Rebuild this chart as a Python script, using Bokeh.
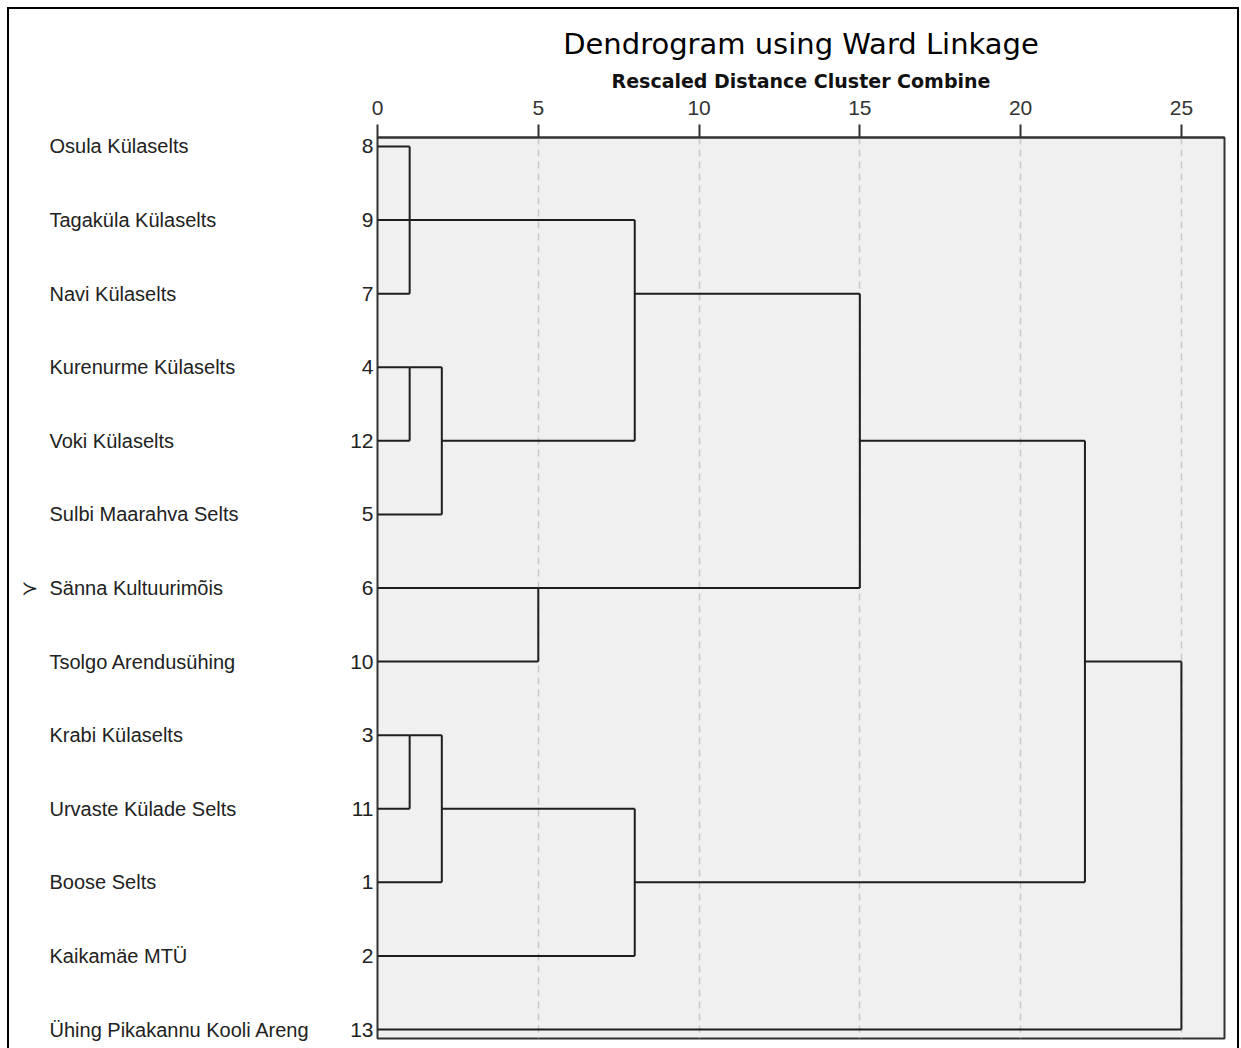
from bokeh.plotting import figure
from bokeh.layouts import row
from bokeh.models import (Range1d, FixedTicker, Title, ColumnDataSource)
from bokeh.core.properties import value
from bokeh.embed import file_html
from bokeh.resources import INLINE

# ---- data ----
leaf_ids = [8, 9, 7, 4, 12, 5, 6, 10, 3, 11, 1, 2, 13]
leaf_names = ["Osula Külaselts", "Tagaküla Külaselts", "Navi Külaselts",
              "Kurenurme Külaselts", "Voki Külaselts", "Sulbi Maarahva Selts",
              "Sänna Kultuurimõis", "Tsolgo Arendusühing", "Krabi Külaselts",
              "Urvaste Külade Selts", "Boose Selts", "Kaikamäe MTÜ",
              "Ühing Pikakannu Kooli Areng"]
# merges: children (leaf ids or merge names), rescaled distance, leaf whose row carries the joined line
merge_children = [[8, 9, 7], [4, 12], ["m1", 5], ["m0", "m2"], [6, 10], ["m3", "m4"],
                  [3, 11], ["m6", 1], ["m7", 2], ["m5", "m8"], ["m9", 13]]
merge_dist = [1, 1, 2, 8, 5, 15, 1, 2, 8, 22, 25]
merge_row_leaf = [9, 4, 12, 7, 6, 12, 3, 11, 1, 10, 10]
x_ticks = [0, 5, 10, 15, 20, 25]
marked_leaf = 6

# ---- build segments ----
row_of = {lid: i for i, lid in enumerate(leaf_ids)}
pos = {lid: (0.0, row_of[lid]) for lid in leaf_ids}
x0, y0, x1, y1 = [], [], [], []
for k, (ch, d, rl) in enumerate(zip(merge_children, merge_dist, merge_row_leaf)):
    ys = []
    for c in ch:
        cx, cy = pos[c]
        x0.append(cx); y0.append(cy); x1.append(d); y1.append(cy)
        ys.append(cy)
    x0.append(d); y0.append(min(ys)); x1.append(d); y1.append(max(ys))
    pos["m%d" % k] = (d, row_of[rl])

OFF = 9
H = 1039
TOP = 137 - OFF
BOT = 10
BOT_NAMES = 1
W_NAMES = 320
W_MAIN = 1228 - W_NAMES

Y_TOP, Y_BOT = -0.122, 12.122
yr = Range1d(Y_BOT, Y_TOP)
frame_h = H - TOP - BOT
ppr = frame_h / (Y_BOT - Y_TOP)

# ---- names column ----
pn = figure(width=W_NAMES, height=H, output_backend="svg", toolbar_location=None,
            x_range=Range1d(0, 1), y_range=yr, x_axis_type=None, y_axis_type=None,
            min_border_left=20 - OFF, min_border_right=0, min_border_top=TOP,
            min_border_bottom=BOT)
name_dy = -1
try:
    # let the names column keep its own (taller) frame so that descenders are not clipped
    pn.frame_align = False
    pn.min_border_bottom = BOT_NAMES
    pn.y_range = Range1d(Y_TOP + (H - TOP - BOT_NAMES) / ppr, Y_TOP)
    name_dy = 0
except Exception:
    pass
pn.outline_line_color = None
pn.background_fill_color = "white"
pn.border_fill_color = "white"
pn.xgrid.visible = False
pn.ygrid.visible = False
names_src = ColumnDataSource(dict(x=[0] * len(leaf_names), y=list(range(len(leaf_names))), t=leaf_names))
pn.text(x="x", y="y", text="t", source=names_src, x_offset=29, y_offset=name_dy,
        text_font=value("Liberation Sans"), text_font_size=value("20px"),
        text_color="#222222", text_baseline="middle", text_align="left")
pn.text(x=[0], y=[row_of[marked_leaf]], text=["≻"], x_offset=1, y_offset=name_dy,
        text_font=value("DejaVu Sans"), text_font_size=value("20px"),
        text_color="#222222", text_baseline="middle", text_align="left")

# ---- dendrogram ----
p = figure(width=W_MAIN, height=H, output_backend="svg", toolbar_location=None,
           x_range=Range1d(0, 26.34), y_range=yr,
           x_axis_location="above", y_axis_location="left",
           min_border_left=377 - OFF - W_NAMES, min_border_right=13, min_border_top=TOP,
           min_border_bottom=BOT)
try:
    p.frame_align = False
except Exception:
    pass
p.background_fill_color = "#f0f0f0"
p.border_fill_color = "white"
p.outline_line_color = "#333333"
p.outline_line_width = 2

p.xgrid.ticker = FixedTicker(ticks=x_ticks)
p.xgrid.grid_line_color = "#c8c8c8"
p.xgrid.grid_line_dash = "7 5"
p.xgrid.grid_line_width = 1.5
p.ygrid.visible = False

xa = p.xaxis[0]
xa.ticker = FixedTicker(ticks=x_ticks)
xa.major_tick_out = 13
xa.major_tick_in = 0
xa.minor_tick_line_color = None
xa.major_tick_line_width = 2
xa.major_tick_line_color = "#333333"
xa.axis_line_color = "#333333"
xa.axis_line_width = 2
xa.major_label_text_font = "Liberation Sans"
xa.major_label_text_font_size = "21px"
xa.major_label_text_color = "#333333"
xa.major_label_standoff = 10

ya = p.yaxis[0]
ya.ticker = FixedTicker(ticks=list(range(len(leaf_ids))))
ya.major_label_overrides = {i: str(l) for i, l in enumerate(leaf_ids)}
ya.major_tick_out = 0
ya.major_tick_in = 0
ya.minor_tick_line_color = None
ya.axis_line_color = None
ya.major_label_text_font = "Liberation Sans"
ya.major_label_text_font_size = "21px"
ya.major_label_text_color = "#222222"
ya.major_label_standoff = 4

p.segment(x0=x0, y0=y0, x1=x1, y1=y1, line_color="#1e1e1e", line_width=2)

p.add_layout(Title(text="Rescaled Distance Cluster Combine", align="center",
                   text_font="DejaVu Sans", text_font_style="bold", text_font_size="19px",
                   text_color="#111111", standoff=11), "above")
p.add_layout(Title(text="Dendrogram using Ward Linkage", align="center",
                   text_font="DejaVu Sans", text_font_style="normal", text_font_size="29px",
                   text_color="#000000", standoff=4), "above")

layout = row(pn, p, spacing=0)
layout.styles = {"outline": "2px solid black", "margin-left": "%dpx" % OFF, "margin-top": "%dpx" % OFF}

open("out.html", "w").write(file_html(layout, INLINE))
